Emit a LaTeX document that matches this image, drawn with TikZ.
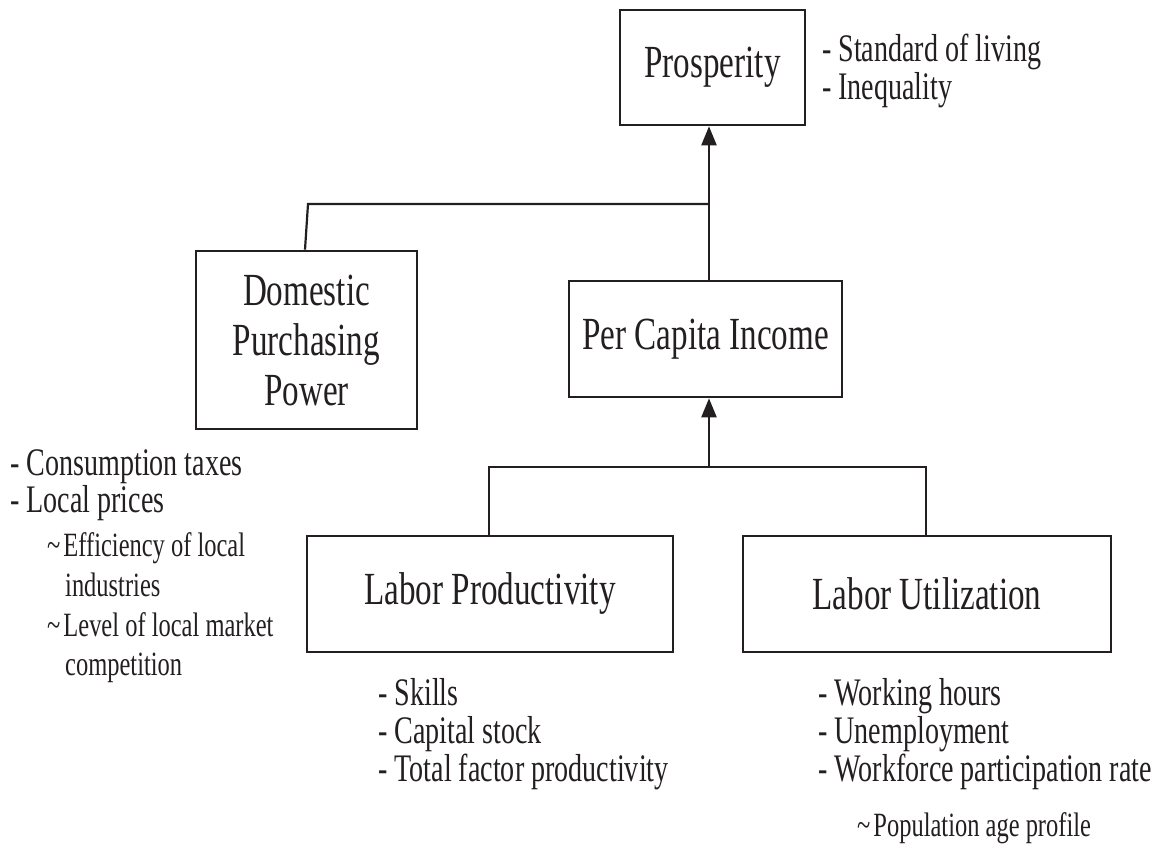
\documentclass[tikz,border=0pt]{standalone}
\usepackage{fontspec}
\setmainfont{Liberation Serif}[FakeStretch=0.72]
\usetikzlibrary{arrows.meta,calc}
\definecolor{ink}{RGB}{35,31,32}
\begin{document}
\begin{tikzpicture}[x=1pt,y=-1pt,
  box/.style={draw=ink,line width=2.6pt,rectangle,inner sep=0pt,text=ink,
    font=\fontsize{46}{50}\selectfont,align=center},
  link/.style={draw=ink,line width=2.2pt},
  up/.style={link,-{Triangle[length=19pt,width=15pt]}},
  note/.style={anchor=base west,inner sep=0pt,text=ink,font=\fontsize{39}{38}\selectfont},
  subnote/.style={anchor=base west,inner sep=0pt,text=ink,font=\fontsize{34}{40}\selectfont}]
\useasboundingbox (0,0) rectangle (1157,845);

% main boxes
\node[box,minimum width=185pt,minimum height=115pt] (pros) at (712.5,67.5) {Prosperity};
\node[box,minimum width=221pt,minimum height=178pt] (dom) at (306.5,340) {Domestic\\Purchasing\\Power};
\node[box,minimum width=273pt,minimum height=116pt] (pci) at (705.5,339) {Per Capita Income};
\node[box,minimum width=366pt,minimum height=116pt] (lp) at (490,594) {Labor Productivity};
\node[box,minimum width=368pt,minimum height=116pt] (lu) at (927,594) {Labor Utilization};

% junction points
\coordinate (jl) at (308,204);
\coordinate (jt) at (709,204);
\coordinate (jb) at (709,467);
\coordinate (jbl) at (489,467);
\coordinate (jbr) at (926,467);

% connectors
\draw[link] ($(dom.north)+(-1.5,0)$) -- (jl) -- (jt);
\draw[up] (pci.north -| jt) -- (pros.south -| jt);
\draw[link] (lp.north -| jbl) -- (jbl) -- (jbr) -- (lu.north -| jbr);
\draw[up] (jb) -- (pci.south -| jb);

% notes beside Prosperity
\node[note] (pros1) at (822,62) {- Standard of living};
\node[note] (pros2) at (822,100) {- Inequality};

% notes under Domestic Purchasing Power
\node[note] (dom1) at (10,475) {- Consumption taxes};
\node[note] (dom2) at (10,512) {- Local prices};
\node[subnote] (dom3) at (47,556) {\textasciitilde\hspace{3pt}Efficiency of local};
\node[subnote] (dom4) at (65,596) {industries};
\node[subnote] (dom5) at (47,636) {\textasciitilde\hspace{3pt}Level of local market};
\node[subnote] (dom6) at (65,675) {competition};

% notes under Labor Productivity
\node[note] (lp1) at (378,705) {- Skills};
\node[note] (lp2) at (378,743) {- Capital stock};
\node[note] (lp3) at (378,781) {- Total factor productivity};

% notes under Labor Utilization
\node[note] (lu1) at (818,705) {- Working hours};
\node[note] (lu2) at (818,743) {- Unemployment};
\node[note] (lu3) at (818,781) {- Workforce participation rate};
\node[subnote] (lu4) at (857,836) {\textasciitilde\hspace{3pt}Population age profile};
\end{tikzpicture}
\end{document}
